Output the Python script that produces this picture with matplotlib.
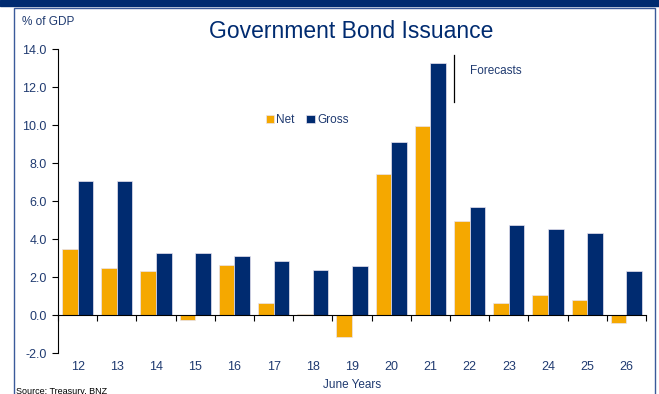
import matplotlib.pyplot as plt
import numpy as np
from matplotlib.patches import Rectangle

plt.rcParams['font.family'] = ['Liberation Sans', 'DejaVu Sans']

years = ["12", "13", "14", "15", "16", "17", "18", "19", "20", "21", "22", "23", "24", "25", "26"]
net = [3.5, 2.5, 2.3, -0.25, 2.65, 0.62, 0.06, -1.18, 7.42, 9.96, 4.96, 0.65, 1.05, 0.78, -0.44]
gross = [7.04, 7.04, 3.25, 3.26, 3.1, 2.82, 2.37, 2.56, 9.12, 13.24, 5.66, 4.74, 4.54, 4.32, 2.3]

navy = "#002B70"
orange = "#F5A800"
txt = "#1F3A70"

fig = plt.figure(figsize=(6.59, 3.94), dpi=100)

# page decoration: top band and frame
fig.patches.append(Rectangle((0, 1 - 6 / 394), 1, 6 / 394, transform=fig.transFigure,
                             color=navy, zorder=0))
fig.patches.append(Rectangle((14 / 659, -0.05), (655 - 14) / 659, 1 - 8 / 394 + 0.05,
                             transform=fig.transFigure, fill=False,
                             edgecolor="#3A5A9A", linewidth=1.0, zorder=0))

ax = fig.add_axes([58 / 659, 1 - 353 / 394, (646 - 58) / 659, (353 - 49) / 394])

x = np.arange(len(years))
w = 0.4
ax.bar(x - w / 2, net, w, color=orange, edgecolor="#E8E4F0", linewidth=0.5, label="Net")
ax.bar(x + w / 2, gross, w, color=navy, edgecolor="#E8E4F0", linewidth=0.5, label="Gross")

ax.set_xlim(-0.5, len(years) - 0.5)
ax.set_ylim(-2, 14)
ax.set_yticks(np.arange(-2, 15, 2))
ax.set_yticklabels([f"{v:.1f}" for v in np.arange(-2, 15, 2)], color=txt, fontsize=9)
ax.tick_params(axis='y', direction='out', length=4, width=0.8, pad=4)

for s in ["top", "right"]:
    ax.spines[s].set_visible(False)
ax.spines["left"].set_linewidth(0.8)
ax.spines["bottom"].set_position(("data", 0))
ax.spines["bottom"].set_linewidth(0.8)
ax.set_xticks(np.arange(-0.5, len(years), 1))
ax.set_xticklabels([])
ax.tick_params(axis='x', direction='out', length=4, width=0.8)

for i, y in enumerate(years):
    ax.text(i, -0.045, y, transform=ax.get_xaxis_transform(), ha="center", va="center",
            color=txt, fontsize=9)

# forecast marker
ax.plot([9.6, 9.6], [11.2, 13.7], color="black", linewidth=0.9, clip_on=False)
ax.text(10.0, 12.85, "Forecasts", color=txt, fontsize=8.5, va="center")

leg = ax.legend(loc="center left", bbox_to_anchor=(0.335, 0.766), ncol=2, frameon=False,
                fontsize=8.5, handlelength=0.7, handleheight=0.7, handletextpad=0.2,
                columnspacing=1.0)
for t in leg.get_texts():
    t.set_color(txt)

fig.text(351 / 659, 1 - 32 / 394, "Government Bond Issuance", ha="center", va="center",
         color=navy, fontsize=16.5)
fig.text(22 / 659, 1 - 22 / 394, "% of GDP", ha="left", va="center", color=txt, fontsize=8.5)
fig.text(352 / 659, 1 - 385 / 394, "June Years", ha="center", va="center", color=txt, fontsize=8.5)
fig.text(16 / 659, 1 - 391 / 394, "Source: Treasury, BNZ", ha="left", va="center",
         color="black", fontsize=6.5)

fig.savefig("out.png", dpi=100)
